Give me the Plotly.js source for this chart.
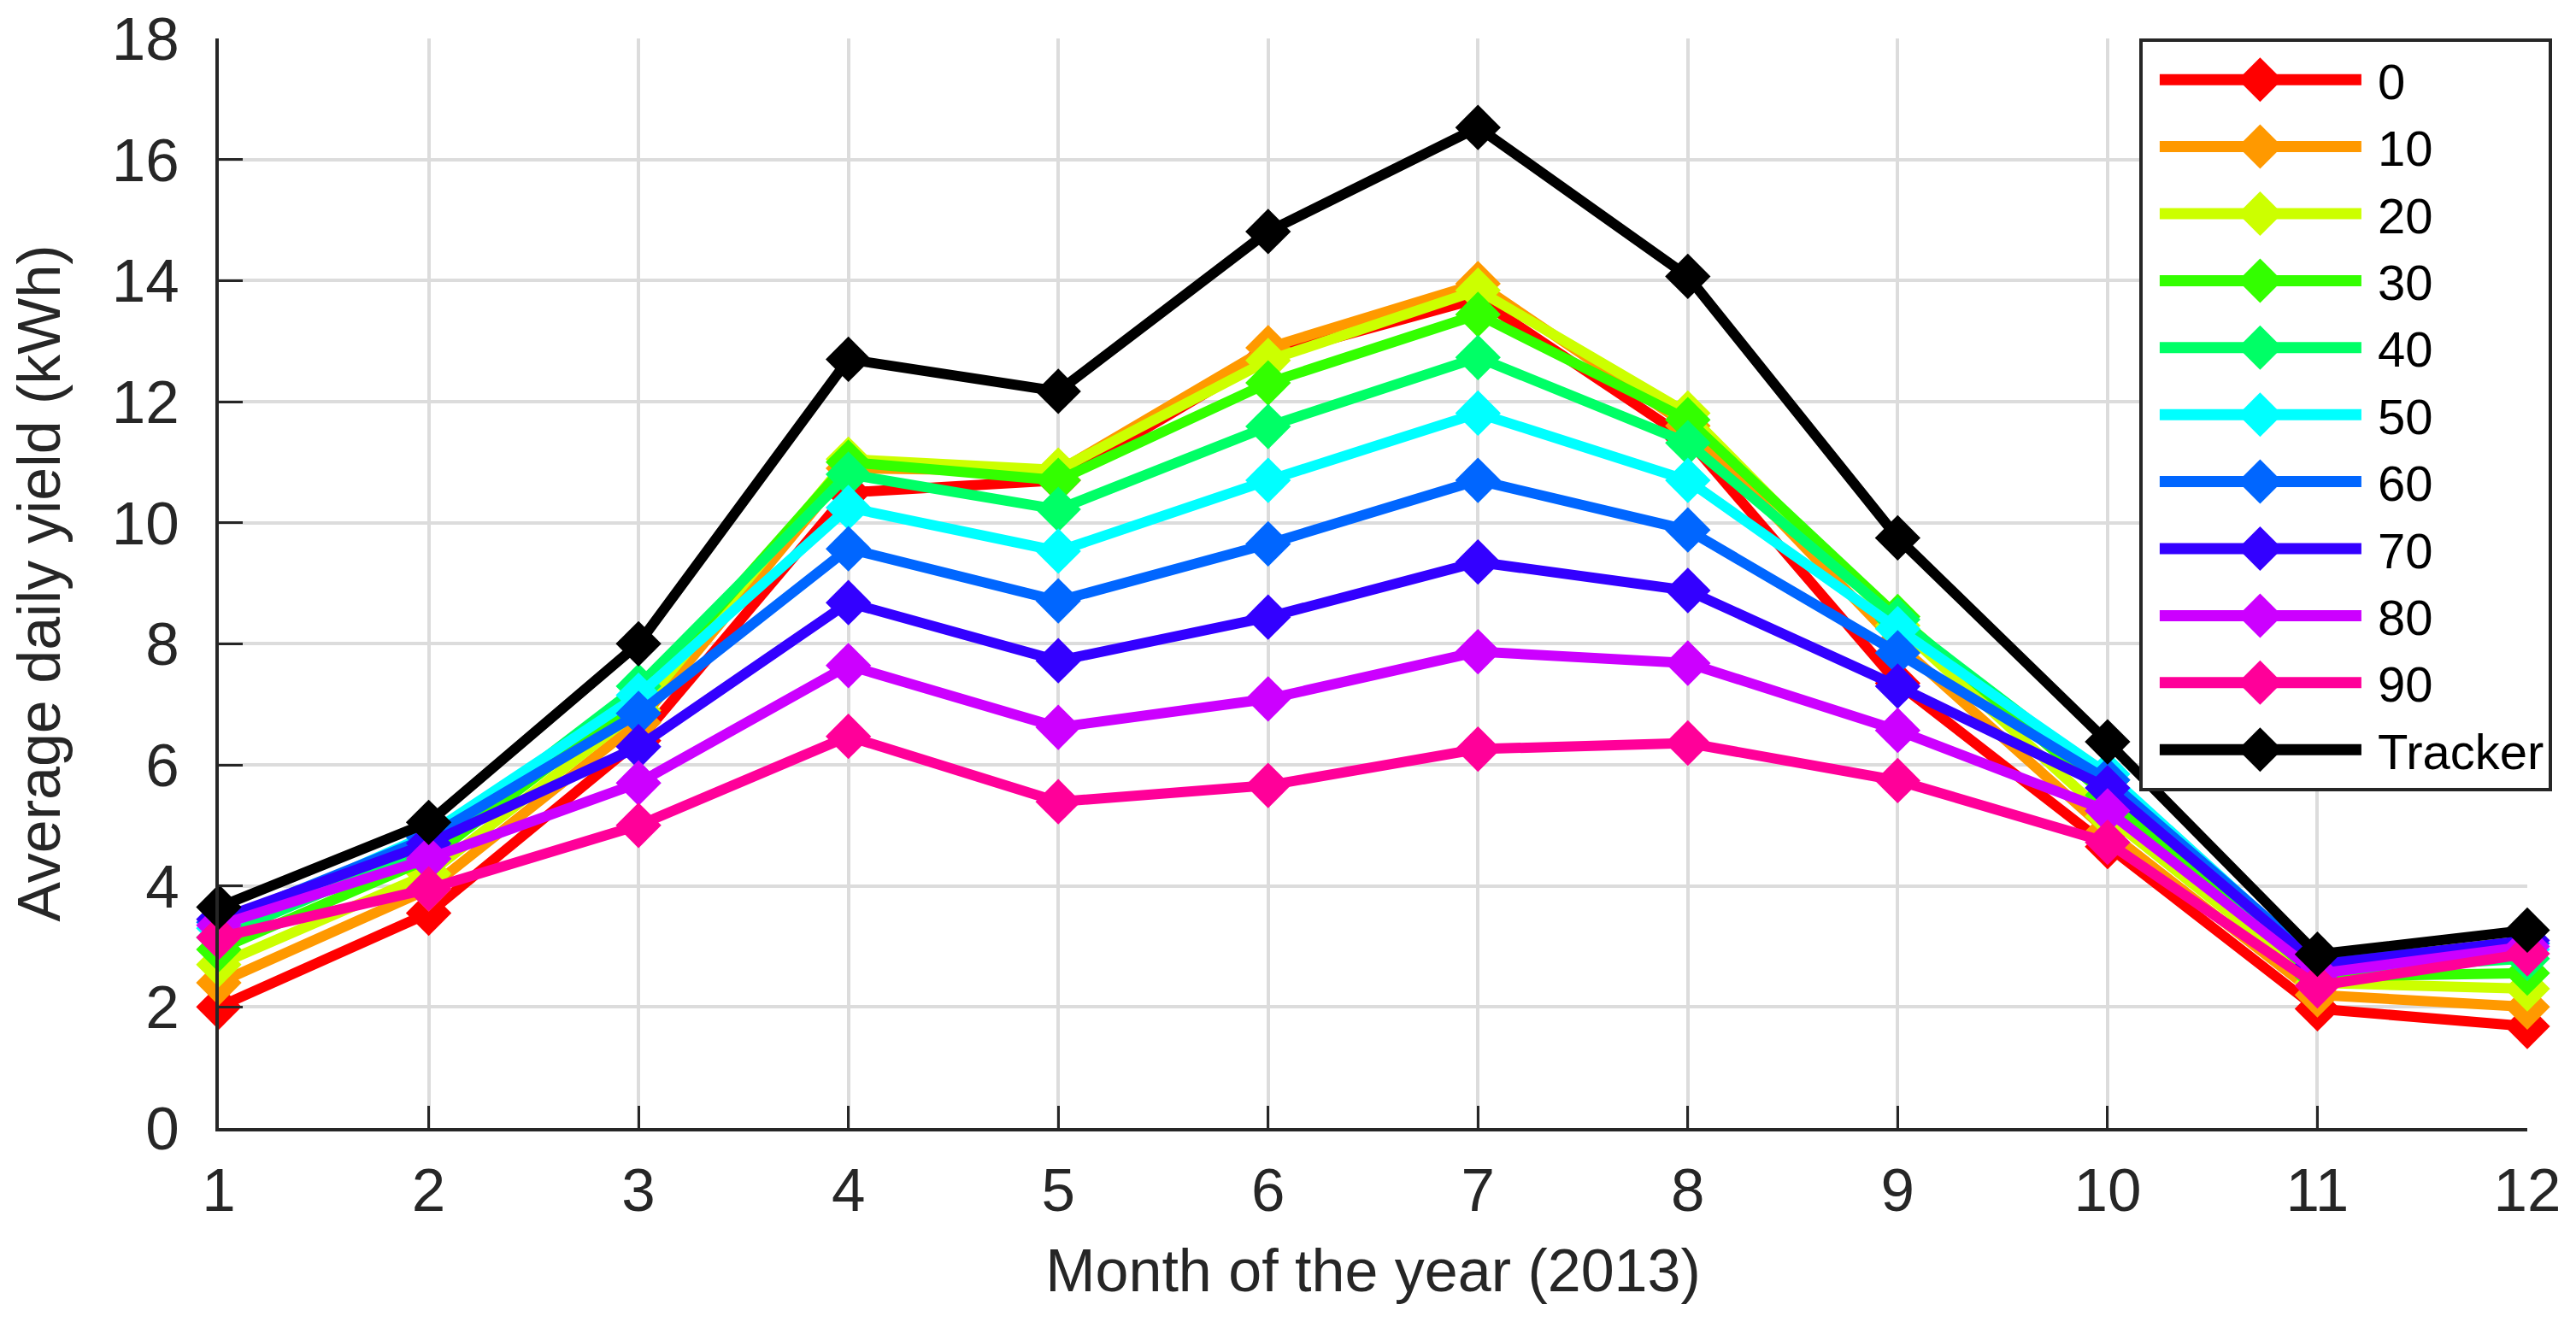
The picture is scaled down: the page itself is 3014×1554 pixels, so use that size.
<!DOCTYPE html>
<html>
<head>
<meta charset="utf-8">
<script src="https://cdn.plot.ly/plotly-3.0.1.min.js"></script>
<style>
  html, body { margin: 0; padding: 0; background: #fff; }
  #plot { width: 3014px; height: 1554px; }
</style>
</head>
<body>
<div id="plot"></div>
<script>
// months on the x axis
const months = [1, 2, 3, 4, 5, 6, 7, 8, 9, 10, 11, 12];

// average daily yield (kWh) per tilt angle
const tilt0   = [2.0, 3.55, 6.4, 10.5, 10.7, 12.75, 13.7, 11.38, 7.35, 4.65, 1.97, 1.68];
const tilt10  = [2.4, 3.95, 6.7, 10.9, 10.85, 12.89, 13.95, 11.6, 8.0, 4.9, 2.2, 2.0];
const tilt20  = [2.7, 4.2, 6.9, 11.05, 10.87, 12.68, 13.84, 11.81, 8.3, 5.15, 2.4, 2.3];
const tilt30  = [2.95, 4.45, 7.1, 11.0, 10.7, 12.31, 13.44, 11.7, 8.45, 5.5, 2.5, 2.56];
const tilt40  = [3.15, 4.65, 7.3, 10.8, 10.22, 11.59, 12.73, 11.32, 8.4, 5.75, 2.6, 2.8];
const tilt50  = [3.3, 4.85, 7.15, 10.25, 9.53, 10.7, 11.81, 10.7, 8.25, 5.85, 2.7, 2.95];
const tilt60  = [3.4, 4.8, 6.85, 9.57, 8.71, 9.65, 10.7, 9.88, 7.85, 5.75, 2.75, 3.05];
const tilt70  = [3.45, 4.7, 6.3, 8.68, 7.72, 8.44, 9.35, 8.88, 7.3, 5.62, 2.7, 3.1];
const tilt80  = [3.35, 4.45, 5.7, 7.64, 6.62, 7.09, 7.87, 7.68, 6.57, 5.24, 2.55, 3.0];
const tilt90  = [3.15, 3.95, 5.0, 6.47, 5.39, 5.66, 6.26, 6.36, 5.74, 4.72, 2.35, 2.88];
const tracker = [3.65, 5.05, 8.0, 12.7, 12.17, 14.81, 16.53, 14.07, 9.75, 6.38, 2.87, 3.27];

const seriesNames = ['0', '10', '20', '30', '40', '50', '60', '70', '80', '90', 'Tracker'];
const seriesValues = [tilt0, tilt10, tilt20, tilt30, tilt40, tilt50, tilt60, tilt70, tilt80, tilt90, tracker];
const seriesColors = ['#FF0000', '#FF9900', '#CCFF00', '#33FF00', '#00FF66',
                      '#00FFFF', '#0066FF', '#3300FF', '#CC00FF', '#FF0099', '#000000'];

const yTicks = [0, 2, 4, 6, 8, 10, 12, 14, 16, 18];

const axisColor = '#262626';
const gridColor = '#DCDCDC';
const fontFamily = '"Liberation Sans", Arial, Helvetica, sans-serif';

// build one trace per series
let traces = [];
for (let i = 0; i < seriesNames.length; i++) {
	traces.push({
		x: months,
		y: seriesValues[i],
		name: seriesNames[i],
		type: 'scatter',
		mode: 'lines+markers',
		cliponaxis: false,
		line: {color: seriesColors[i], width: 12},
		marker: {symbol: 'diamond', size: 41, color: seriesColors[i]}
	});
}

const layout = {
	width: 3014,
	height: 1554,
	margin: {l: 256, r: 57, t: 45, b: 234},
	paper_bgcolor: '#ffffff',
	plot_bgcolor: '#ffffff',
	font: {family: fontFamily, color: axisColor, size: 70},
	showlegend: true,
	xaxis: {
		range: [1, 12],
		tickvals: months,
		ticks: 'inside',
		ticklen: 26,
		tickwidth: 3,
		tickcolor: axisColor,
		showline: true,
		linecolor: axisColor,
		linewidth: 4,
		showgrid: true,
		gridcolor: gridColor,
		gridwidth: 4,
		zeroline: false,
		ticklabelstandoff: 8,
		tickfont: {size: 71, color: axisColor},
		title: {text: 'Month of the year (2013)', font: {size: 70, color: axisColor}, standoff: 32}
	},
	yaxis: {
		range: [0, 18],
		tickvals: yTicks,
		ticks: 'inside',
		ticklen: 28,
		tickwidth: 3,
		tickcolor: axisColor,
		showline: true,
		linecolor: axisColor,
		linewidth: 4,
		showgrid: true,
		gridcolor: gridColor,
		gridwidth: 4,
		zeroline: false,
		ticklabelstandoff: 28,
		tickfont: {size: 71, color: axisColor},
		title: {text: 'Average daily yield (kWh)', font: {size: 70, color: axisColor}, standoff: 38}
	},
	legend: {
		x: 1.0107,
		xanchor: 'right',
		y: 1,
		yanchor: 'top',
		bgcolor: '#ffffff',
		bordercolor: axisColor,
		borderwidth: 4,
		itemwidth: 265,
		tracegroupgap: 0,
		font: {family: fontFamily, size: 58, color: '#000000'}
	}
};

Plotly.newPlot('plot', traces, layout, {displayModeBar: false, staticPlot: true}).then(function () {
	// legend symbols are capped in size by plotly, enlarge them to match the plot markers
	document.querySelectorAll('.legend .legendpoints path').forEach(function (p) {
		const t = p.getAttribute('transform') || '';
		p.setAttribute('transform', t + ' scale(2.5)');
	});
	// shorter sample line with some room on both sides, like the original legend
	document.querySelectorAll('.legend .legendlines path').forEach(function (p) {
		p.setAttribute('d', 'M20,0h236');
		p.style.strokeWidth = '13px';
	});
});
</script>
</body>
</html>
